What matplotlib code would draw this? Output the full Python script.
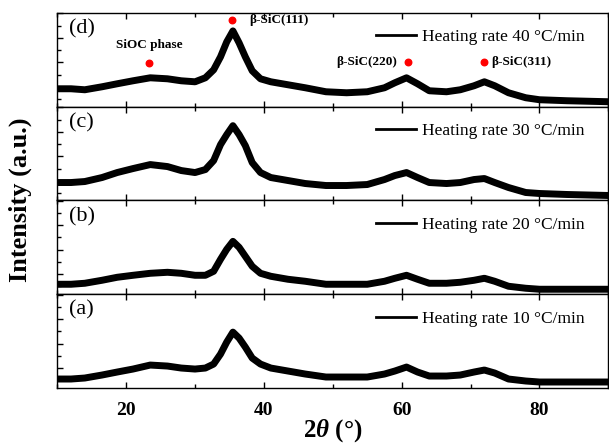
# xrd_heating_rate.py
import matplotlib
matplotlib.use("Agg")
import matplotlib.pyplot as plt
from matplotlib.ticker import MultipleLocator

plt.rcParams['font.family'] = ['Liberation Serif', 'DejaVu Serif']
plt.rcParams['mathtext.fontset'] = 'custom'
plt.rcParams['mathtext.rm'] = 'Liberation Serif:bold'
plt.rcParams['mathtext.it'] = 'Liberation Serif:bold:italic'
plt.rcParams['mathtext.bf'] = 'Liberation Serif:bold'

# 2theta grid (deg) and intensities (a.u.)
two_theta = [10, 12, 14, 16.5, 18.7, 21, 23.5, 26, 28, 30, 31.5, 32.7, 33.7, 34.6,
             35.5, 36.4, 37.3, 38.3, 39.5, 41, 43.5, 46, 49, 52, 55, 57.5, 59, 60.7,
             62.3, 64, 66.5, 68.5, 70.5, 72, 73.5, 75.5, 78, 80, 84, 90]

int_40 = [18, 18, 17, 20, 23, 26, 29, 28, 26, 25, 29, 37, 50, 65,
          76, 64, 50, 36, 28, 25, 22, 19, 15, 14, 15, 19, 24, 29,
          23, 16, 15, 17, 21, 25, 21, 14, 9, 7, 6, 5]
int_30 = [18, 18, 19, 23, 28, 32, 36, 34, 30, 28, 31, 40, 56, 66,
          75, 66, 55, 38, 28, 23, 20, 17, 15, 15, 16, 21, 25, 28,
          23, 18, 17, 18, 21, 22, 18, 13, 8, 7, 6, 5]
int_20 = [10, 10, 11, 14, 17, 19, 21, 22, 21, 19, 19, 23, 35, 45,
          53, 47, 38, 28, 21, 18, 15, 13, 10, 10, 10, 13, 16, 19,
          15, 11, 11, 12, 14, 16, 13, 8, 6, 5, 5, 5]
int_10 = [9, 9, 10, 13, 16, 19, 23, 22, 20, 19, 20, 24, 34, 46,
          56, 50, 41, 30, 24, 20, 17, 14, 11, 11, 11, 14, 17, 21,
          16, 12, 12, 13, 16, 18, 15, 9, 7, 6, 6, 6]

panel_tags = ['(d)', '(c)', '(b)', '(a)']
rates = [40, 30, 20, 10]
series = [int_40, int_30, int_20, int_10]

# peak markers on the top panel
peak_names = ['SiOC phase', 'β-SiC(111)', 'β-SiC(220)', 'β-SiC(311)']
peak_pos = [23.3, 35.4, 60.9, 72.0]
peak_marker_y = [44, 87, 45, 45]

fig, axes = plt.subplots(4, 1, figsize=(6.09, 4.47), dpi=100, sharex=True)
fig.subplots_adjust(left=0.094, right=0.999, top=0.971, bottom=0.132, hspace=0)

for ax, tag, rate, y in zip(axes, panel_tags, rates, series):
    ax.plot(two_theta, y, color='black', lw=5.0, solid_joinstyle='round',
            label='Heating rate %d °C/min' % rate)
    ax.set_xlim(10, 90)
    ax.set_ylim(0, 94)
    ax.set_yticks([20, 44.5, 69, 93.5])
    ax.set_yticks([8, 32, 57, 81], minor=True)
    ax.set_yticklabels([])
    ax.xaxis.set_major_locator(MultipleLocator(20))
    ax.xaxis.set_minor_locator(MultipleLocator(10))
    ax.tick_params(which='both', direction='in', top=True, bottom=True,
                   left=True, right=False, width=1.0)
    ax.tick_params(which='major', length=4.5)
    ax.tick_params(which='minor', length=3)
    for s in ax.spines.values():
        s.set_linewidth(1.0)
    ax.text(0.022, 0.83, tag, transform=ax.transAxes, fontsize=16,
            ha='left', va='center')
    leg = ax.legend(loc='upper right', bbox_to_anchor=(0.97, 0.9),
                    frameon=False, fontsize=12.5, handlelength=2.3,
                    handletextpad=0.35, borderaxespad=0)
    for h in leg.get_lines():
        h.set_linewidth(2.0)

top = axes[0]
top.scatter(peak_pos, peak_marker_y, s=22, color='red', zorder=5)
top.text(peak_pos[0], 62, peak_names[0], fontsize=9.5, fontweight='bold',
         ha='center', va='center')
top.text(peak_pos[1] + 2.4, 87, peak_names[1], fontsize=9.5, fontweight='bold',
         ha='left', va='center')
top.text(peak_pos[2] - 1.5, 45, peak_names[2], fontsize=9.5, fontweight='bold',
         ha='right', va='center')
top.text(peak_pos[3] + 1.0, 45, peak_names[3], fontsize=9.5, fontweight='bold',
         ha='left', va='center')

bottom = axes[-1]
for lab in bottom.get_xticklabels():
    lab.set_fontweight('bold')
    lab.set_fontsize(14)
bottom.tick_params(axis='x', pad=10)
bottom.set_xlabel(r'2$\theta$ (°)', fontsize=18, fontweight='bold', labelpad=-1)

fig.text(0.033, 0.553, 'Intensity (a.u.)', rotation=90, fontsize=19,
         fontweight='bold', ha='center', va='center')

fig.savefig('out.png', dpi=100)
